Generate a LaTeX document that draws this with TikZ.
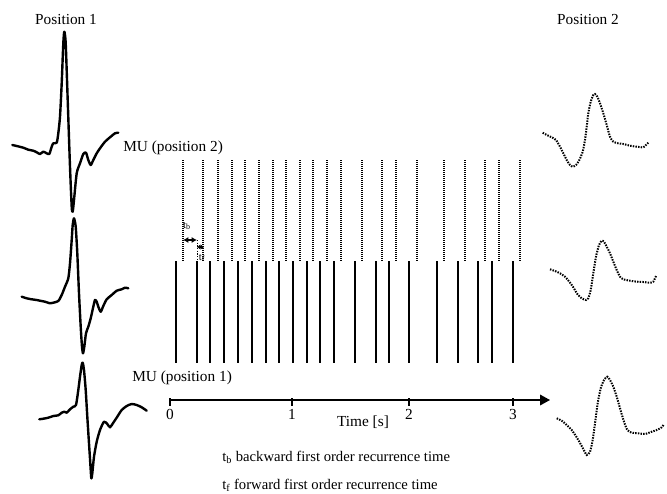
\documentclass[tikz,border=0pt]{standalone}
\usepackage{fontspec}
\setmainfont{Liberation Serif}
\usetikzlibrary{arrows.meta}
\tikzset{
  wave/.style={line width=1.8pt, line join=round, line cap=round},
  dotwave/.style={line width=1.5pt, dash pattern=on 1.1pt off 0.9pt},
  firing/.style={line width=0.9pt},
  firingdot/.style={line width=0.9pt, dash pattern=on 0.75pt off 0.75pt},
  lbl/.style={font=\fontsize{11.5}{13}\selectfont, inner sep=0pt},
  note/.style={font=\fontsize{11}{12}\selectfont, inner sep=0pt, anchor=west},
  sublbl/.style={font=\fontsize{8}{9}\selectfont, inner sep=0pt}
}
\begin{document}
\begin{tikzpicture}[x=0.75pt,y=-0.75pt]
  \useasboundingbox (0,0) rectangle (667,493);
  \node[lbl] (pos1) at (66,19) {Position 1};
  \node[lbl] (pos2) at (588,19) {Position 2};
  % position 1 templates
  \draw[wave] plot[smooth,tension=0.4] coordinates {(12.3,145) (16.7,146) (23.3,147.7) (28.3,149.7) (33.3,150.7) (36.7,152.3) (40,154) (43.3,151.7) (46.7,153.3) (49.3,154) (51.7,146.7) (53.3,143.3) (56.7,142.7) (58.3,133.3) (60,116.7) (61.7,83.3) (63.3,43.3) (64.3,31.7) (65.7,43.3) (67.7,100) (70,166.7) (71.7,206.7) (72.7,211.7) (74,200) (76.7,173.3) (80,163.3) (83.3,154) (86,152.7) (88.3,160) (90.7,165) (93.3,160) (96.7,153.3) (100,148.3) (105,141.7) (110,137.3) (115,133.3) (118.3,132.7)};
  \draw[wave] plot[smooth,tension=0.4] coordinates {(21.7,296.7) (26.7,298.3) (31.7,299.3) (36.7,300) (40,300.7) (45,301.7) (50,303.3) (53.3,302.7) (58.3,301) (61.7,295) (65,286.7) (68.3,278.3) (70,263.3) (71.7,240) (72.7,225) (74,218.3) (75.7,226.7) (77.3,253.3) (79,293.3) (80.7,326.7) (82,346.7) (83,353.3) (84.3,346.7) (86,333.3) (88.3,326.7) (90.7,318.3) (93.3,306.7) (95,300) (96.7,301.7) (98.3,306.7) (100.7,311.7) (103.3,306) (106.7,299.3) (111.7,295) (116.7,290.7) (121.7,289.3) (125,287.7) (128.3,288.3)};
  \draw[wave] plot[smooth,tension=0.4] coordinates {(39.3,419.3) (43.3,418.7) (48.3,417.7) (53.3,416) (58.3,415.3) (61.7,412.7) (64.3,411.7) (66.7,412.7) (70,409.3) (73.3,406.7) (76,405) (78.3,390) (80,376.7) (81.7,365) (82.7,362.7) (84,370) (85.7,390) (87.3,416.7) (89,443.3) (90.3,463.3) (91.3,478.3) (92.3,473.3) (94,456.7) (96.7,441.7) (100,430) (104,421.7) (107.3,424) (110,427.3) (113.3,422.7) (117.3,416.7) (121.7,410) (126.7,406) (131.7,404) (136.7,405) (141.7,407.3) (146.7,410.7)};
  % position 2 templates
  \draw[dotwave] plot[smooth,tension=0.4] coordinates {(542.7,132.7) (546.7,135) (551.7,137.3) (556,140) (560,146.7) (563.3,153.3) (566.7,160) (570,165) (572.7,166.7) (576,165) (579.3,160) (582.7,151.7) (585,140) (586.7,126.7) (588.3,113.3) (590.7,101.7) (593.3,95) (595,94) (597.3,96.7) (600,103.3) (603.3,113.3) (606.7,125) (610,136.7) (613.3,141.7) (618.3,143.3) (623.3,144) (630,145.7) (636.7,146.7) (643.3,147.3) (646,145) (648.3,142.7)};
  \draw[dotwave] plot[smooth,tension=0.4] coordinates {(550,269.3) (555,271) (560,273.3) (565,276.7) (569.3,281.7) (573.3,287.3) (577.3,294) (581.7,298.3) (586,300) (588.3,298.3) (590.7,290) (593.3,273.3) (596,256.7) (599,245) (601.7,240.7) (604,241.7) (606.7,246.7) (610,253.3) (613.3,261.7) (616.7,270) (620,276.7) (623.3,279.3) (630,280.7) (636.7,281.7) (643.3,282) (650,282.7) (653.3,281.7) (656,276)};
  \draw[dotwave] plot[smooth,tension=0.4] coordinates {(556.7,418.3) (561.7,420.7) (566.7,425) (571.7,430) (576.7,437.3) (581.7,446) (586.7,455) (590,451.7) (592.7,440) (595,423.3) (597.7,403.3) (600.7,388.3) (604,380) (607.3,376.7) (610,380) (613.3,386.7) (616.7,396.7) (620,408.3) (624,421.7) (627.3,430) (631.7,432.7) (638.3,433.3) (645,434) (651.7,431.7) (656.7,430) (661.7,427.3) (664,424)};
  % spike trains
  \node[lbl,anchor=west] (mu2) at (123,148) {MU (position 2)};
  \node[lbl,anchor=west] (mu1) at (132,378) {MU (position 1)};
  \foreach \x in {183,203,218,232,245,259,273,286,300,313,327,341,362,382,396,417,444,465,485,499,520}
    \draw[firingdot] (\x,160) -- (\x,262);
  \foreach \x in {176,197,210,224,238,252,266,279,293,307,320,334,355,376,389,409,437,458,478,492,513}
    \draw[firing] (\x,261) -- (\x,363);
  % recurrence times
  \coordinate (tbL) at (183,240);
  \coordinate (tbR) at (197,240);
  \coordinate (tfL) at (197,247);
  \coordinate (tfR) at (204,247);
  \coordinate (spk) at (197,261);
  \draw[line width=0.6pt, dash pattern=on 1pt off 1pt] (tbR) -- (spk);
  \draw[line width=1pt, {Latex[length=4pt,width=4.5pt]}-{Latex[length=4pt,width=4.5pt]}] (tbL) -- (tbR);
  \draw[line width=1.2pt, {Latex[length=2.5pt,width=4pt]}-{Latex[length=2.5pt,width=4pt]}] (tfL) -- (tfR);
  \node[sublbl] (tb) at (187,226) {t\textsubscript{b}};
  \node[sublbl] (tf) at (202,258) {t\textsubscript{f}};
  % time axis
  \coordinate (ax0) at (170,400);
  \coordinate (axE) at (550,400);
  \draw[line width=1pt, -{Triangle[length=7.5pt,width=8pt]}] (ax0) -- (axE);
  \foreach \x/\t in {170/0,292/1,409/2,513/3}{
    \draw[line width=0.8pt] (\x,398) -- (\x,406);
    \node[lbl] (tick\t) at (\x,414) {\t};
  }
  \node[lbl] (time) at (363,422) {Time [s]};
  \node[note] (ntb) at (222,457) {t\textsubscript{b} backward first order recurrence time};
  \node[note] (ntf) at (222,485) {t\textsubscript{f} forward first order recurrence time};
\end{tikzpicture}
\end{document}
